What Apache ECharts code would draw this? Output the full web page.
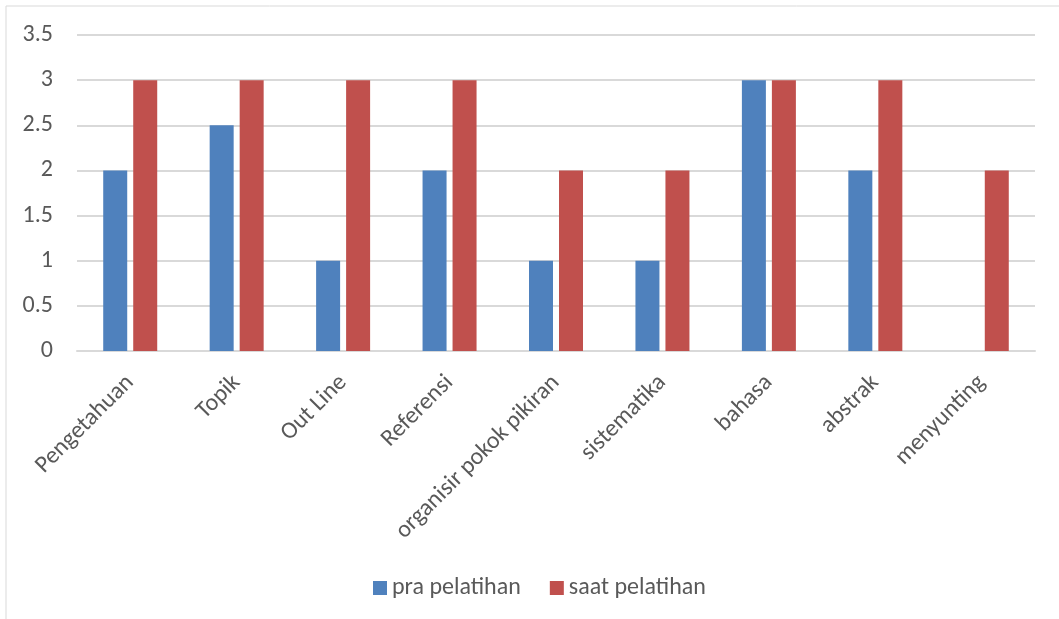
<!DOCTYPE html>
<html>
<head>
<meta charset="utf-8">
<script src="https://cdn.jsdelivr.net/npm/echarts@6/dist/echarts.min.js"></script>
<style>
  html, body { margin: 0; padding: 0; background: #fff; }
  #chart { width: 1059px; height: 619px; }
</style>
</head>
<body>
<div id="chart"></div>
<script>
// kategori
const categories = ['Pengetahuan', 'Topik', 'Out Line', 'Referensi', 'organisir pokok pikiran', 'sistematika', 'bahasa', 'abstrak', 'menyunting']
// nilai seri
const praPelatihan = [2, 2.5, 1, 2, 1, 1, 3, 2, null]
const saatPelatihan = [3, 3, 3, 3, 2, 2, 3, 3, 2]
const yTicks = [0, 0.5, 1, 1.5, 2, 2.5, 3, 3.5]

const fontFamily = 'Carlito, "Noto Sans", "Open Sans", sans-serif'
const textColor = '#595959'

const chart = echarts.init(document.getElementById('chart'))

chart.setOption({
  backgroundColor: '#fff',
  animation: false,
  graphic: [{
    type: 'rect',
    shape: { x: 6, y: 6, width: 1070, height: 640 },
    style: { fill: 'none', stroke: '#d9d9d9', lineWidth: 1 },
    silent: true
  }],
  grid: {
    left: 77,
    right: 24,
    top: 35,
    bottom: 268
  },
  legend: {
    top: 571,
    left: 368,
    itemWidth: 14,
    itemHeight: 14,
    itemGap: 29,
    icon: 'rect',
    textStyle: { color: textColor, fontSize: 24, fontFamily: fontFamily },
    data: ['pra pelatihan', 'saat pelatihan']
  },
  xAxis: {
    type: 'category',
    data: categories,
    axisLine: { lineStyle: { color: '#d9d9d9', width: 2 } },
    axisTick: { show: false },
    axisLabel: {
      rotate: 45,
      interval: 0,
      margin: 28,
      color: textColor,
      fontSize: 24,
      fontFamily: fontFamily
    }
  },
  yAxis: {
    type: 'value',
    min: yTicks[0],
    max: yTicks[yTicks.length - 1],
    interval: 0.5,
    axisLine: { show: false },
    axisTick: { show: false },
    splitLine: { lineStyle: { color: '#d9d9d9', width: 2 } },
    axisLabel: {
      margin: 24,
      color: textColor,
      fontSize: 24,
      fontFamily: fontFamily
    }
  },
  series: [
    {
      name: 'pra pelatihan',
      type: 'bar',
      data: praPelatihan,
      barWidth: 24,
      barGap: '25%',
      itemStyle: { color: '#4f81bd' }
    },
    {
      name: 'saat pelatihan',
      type: 'bar',
      data: saatPelatihan,
      barWidth: 24,
      itemStyle: { color: '#c0504d' }
    }
  ]
})
</script>
</body>
</html>
